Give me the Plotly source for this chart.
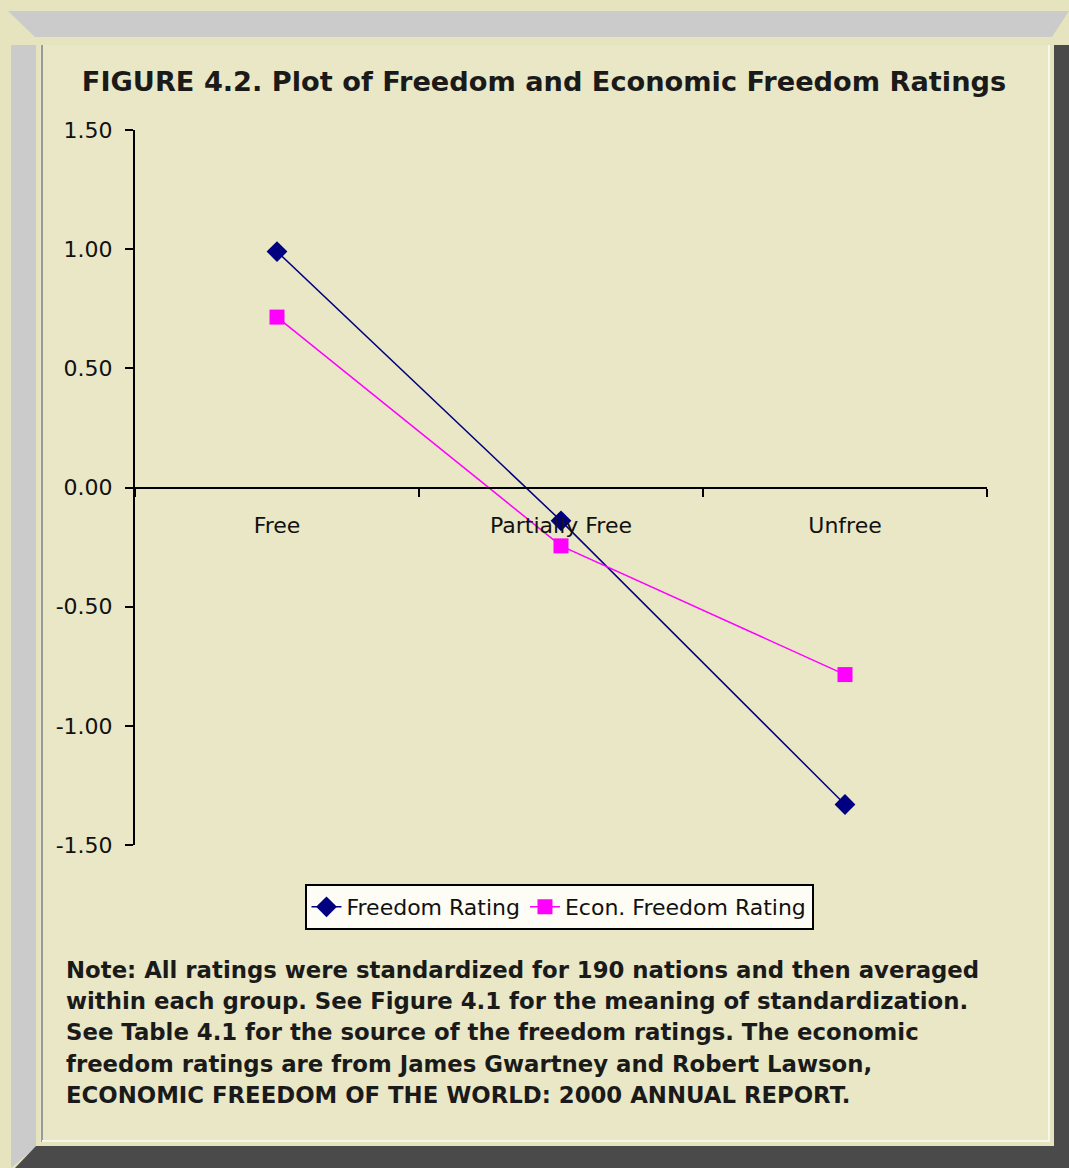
import plotly.graph_objects as go

# ---- data ----
categories = ["Free", "Partially Free", "Unfree"]
freedom_rating = [0.99, -0.14, -1.33]
econ_freedom_rating = [0.715, -0.245, -0.785]
y_tick_vals = [-1.5, -1.0, -0.5, 0.0, 0.5, 1.0, 1.5]
y_tick_text = ["-1.50", "-1.00", "-0.50", "0.00", "0.50", "1.00", "1.50"]

title_text = "FIGURE 4.2. Plot of Freedom and Economic Freedom Ratings"
note_lines = [
    "Note: All ratings were standardized for 190 nations and then averaged",
    "within each group. See Figure 4.1 for the meaning of standardization.",
    "See Table 4.1 for the source of the freedom ratings. The economic",
    "freedom ratings are from James Gwartney and Robert Lawson,",
    "ECONOMIC FREEDOM OF THE WORLD: 2000 ANNUAL REPORT.",
]

# ---- layout geometry (pixels) ----
W, H = 1069, 1168
L, R, T, B = 135, 987, 130, 845


def px(x):
    return (x - L) / (R - L)


def py(y):
    return (B - y) / (B - T)


def path(points):
    return "M " + " L ".join(f"{px(x):.5f},{py(y):.5f}" for x, y in points) + " Z"


BG = "#e6e4bf"
PANEL = "#e9e7c5"
LIGHT = "#cbcbcb"
DARK = "#4a4a4a"

P = dict(xref="paper", yref="paper", layer="below")
shapes = [
    # top light bevel
    dict(type="path", path=path([(8, 11), (1069, 11), (1052, 37), (35, 37)]),
         fillcolor=LIGHT, line=dict(width=0), **P),
    # left light bevel
    dict(type="path", path=path([(11, 45), (36, 45), (36, 1147), (11, 1168)]),
         fillcolor=LIGHT, line=dict(width=0), **P),
    # right dark bevel
    dict(type="path", path=path([(1054, 45), (1069, 45), (1069, 1168), (1054, 1168)]),
         fillcolor=DARK, line=dict(width=0), **P),
    # bottom dark bevel
    dict(type="path", path=path([(36, 1146), (1069, 1146), (1069, 1168), (15, 1168)]),
         fillcolor=DARK, line=dict(width=0), **P),
    # inner panel
    dict(type="rect", x0=px(40), x1=px(1050), y0=py(45), y1=py(1142),
         fillcolor=PANEL, line=dict(width=0), **P),
    # inner thin edges
    dict(type="line", x0=px(42), x1=px(42), y0=py(45), y1=py(1142),
         line=dict(color="#9a9a9a", width=2), **P),
    dict(type="line", x0=px(1049), x1=px(1049), y0=py(45), y1=py(1142),
         line=dict(color="#f6f6ea", width=2), **P),
    dict(type="line", x0=px(42), x1=px(1049), y0=py(1141), y1=py(1141),
         line=dict(color="#f6f6ea", width=2), **P),
]

fig = go.Figure()
fig.add_trace(go.Scatter(
    x=categories, y=freedom_rating, name="Freedom Rating",
    mode="lines+markers",
    line=dict(color="#000080", width=1.5),
    marker=dict(symbol="diamond", size=16, color="#000080"),
))
fig.add_trace(go.Scatter(
    x=categories, y=econ_freedom_rating, name="Econ. Freedom Rating",
    mode="lines+markers",
    line=dict(color="#ff00ff", width=1.5),
    marker=dict(symbol="square", size=15, color="#ff00ff"),
))

tick_font = dict(family="DejaVu Sans", size=22, color="#111111")
note_font = dict(family="DejaVu Sans", size=22.8, color="#1a1a1a", weight="bold")

note_annotations = [
    dict(
        text=line,
        xref="paper", yref="paper",
        x=px(64), xanchor="left",
        y=py(970 + 31.2 * i), yanchor="middle",
        align="left", showarrow=False,
        font=note_font,
    )
    for i, line in enumerate(note_lines)
]

fig.update_layout(
    width=W, height=H,
    margin=dict(l=L, r=W - R, t=T, b=H - B),
    paper_bgcolor=BG,
    plot_bgcolor="rgba(0,0,0,0)",
    shapes=shapes,
    title=dict(
        text=title_text,
        font=dict(family="DejaVu Sans", size=27.2, color="#1a1a1a", weight="bold"),
        xref="container", yref="container",
        x=544 / W, xanchor="center",
        y=1 - 81 / H, yanchor="middle",
    ),
    showlegend=True,
    legend=dict(
        orientation="h",
        x=px(559), xanchor="center",
        y=py(884), yanchor="top",
        bgcolor="#fdfdf6",
        bordercolor="#000000", borderwidth=2,
        font=dict(family="DejaVu Sans", size=22, color="#111111"),
    ),
    xaxis=dict(
        type="category",
        range=[-0.5, 2.5],
        anchor="free", position=0.5,
        showline=True, linecolor="#000000", linewidth=2,
        ticks="outside", ticklen=8, tickwidth=2, tickcolor="#000000",
        tickson="boundaries",
        ticklabelstandoff=18,
        showgrid=False, zeroline=False,
        tickfont=tick_font,
    ),
    yaxis=dict(
        range=[-1.5, 1.5],
        tickvals=y_tick_vals, ticktext=y_tick_text,
        showline=True, linecolor="#000000", linewidth=2,
        ticks="outside", ticklen=8, tickwidth=2, tickcolor="#000000",
        ticklabelstandoff=8,
        showgrid=False, zeroline=False,
        tickfont=tick_font,
    ),
    annotations=note_annotations,
)

fig.write_html(
    "out.html",
    config={"displayModeBar": False},
    post_script="document.body.style.margin='0px';document.body.style.overflow='hidden';",
)
